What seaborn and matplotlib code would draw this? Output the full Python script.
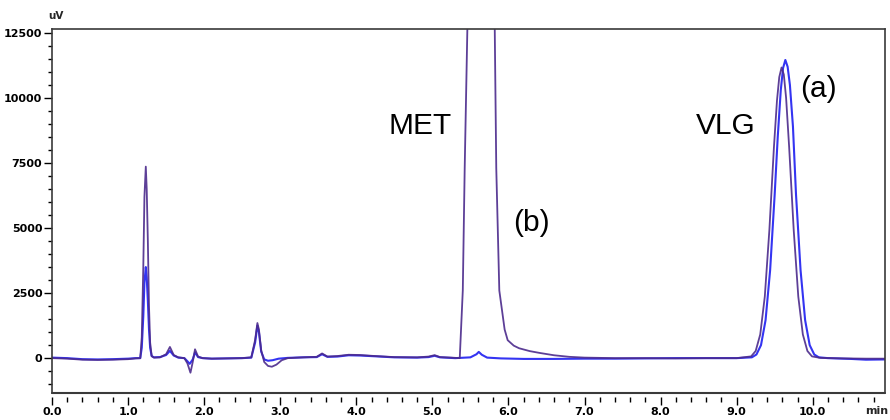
import numpy as np
import pandas as pd
import matplotlib
matplotlib.use("Agg")
import matplotlib.pyplot as plt
import matplotlib.transforms as mtransforms
from matplotlib.ticker import MultipleLocator, FixedLocator
import seaborn as sns

# ---- data (time in min, signal in uV) ----
t_a = [0.00, 0.20, 0.40, 0.60, 0.80, 1.00, 1.10, 1.16, 1.18, 1.20, 1.215, 1.233, 1.245, 1.26, 1.275,
       1.29, 1.31, 1.34, 1.42, 1.50, 1.55, 1.60, 1.66, 1.74, 1.78, 1.81, 1.85, 1.88, 1.92, 1.98,
       2.10, 2.30, 2.50, 2.62, 2.67, 2.70, 2.72, 2.75, 2.79, 2.84, 2.90, 2.98, 3.10, 3.30, 3.48,
       3.55, 3.62, 3.75, 3.90, 4.05, 4.25, 4.50, 4.80, 4.95, 5.03, 5.10, 5.30, 5.50, 5.58, 5.61,
       5.65, 5.72, 5.90, 6.20, 6.60, 7.00, 7.40, 7.80, 8.20, 8.60, 9.00, 9.20, 9.26, 9.32, 9.38,
       9.44, 9.50, 9.54, 9.58, 9.61, 9.64, 9.67, 9.70, 9.74, 9.78, 9.84, 9.90, 9.96, 10.02, 10.08,
       10.20, 10.50, 10.70, 10.95]
v_a = [20, 0, -40, -50, -40, -20, 0, 0, 400, 1600, 2900, 3500, 3100, 2200, 1100,
       400, 80, 30, 40, 120, 280, 100, 20, 0, -120, -220, -50, 220, 40, 0,
       -20, -10, 0, 20, 600, 1250, 1000, 250, -50, -100, -80, -20, 10, 30, 40,
       150, 50, 60, 110, 100, 70, 30, 20, 40, 90, 30, 0, 30, 150, 240,
       130, 20, -10, -30, -30, -20, -20, -10, 0, 0, 0, 31, 140, 500, 1460,
       3380, 6300, 8500, 10300, 11150, 11460, 11200, 10500, 8900, 6300, 3380, 1460, 500, 140, 31,
       0, -30, -60, -50]

t_b = [0.00, 0.20, 0.40, 0.60, 0.80, 1.00, 1.10, 1.16, 1.18, 1.20, 1.215, 1.233, 1.245, 1.26, 1.275,
       1.29, 1.31, 1.34, 1.42, 1.50, 1.55, 1.60, 1.66, 1.74, 1.78, 1.82, 1.85, 1.88, 1.92, 1.98,
       2.10, 2.30, 2.50, 2.62, 2.67, 2.70, 2.72, 2.75, 2.79, 2.84, 2.89, 2.95, 3.02, 3.10, 3.30,
       3.48, 3.55, 3.62, 3.75, 3.90, 4.05, 4.25, 4.50, 4.80, 4.95, 5.03, 5.10, 5.25, 5.36, 5.40,
       5.425, 5.46, 5.52, 5.60, 5.66, 5.72, 5.78, 5.82, 5.84, 5.88, 5.95, 5.99, 6.07, 6.14, 6.28,
       6.41, 6.60, 6.80, 7.00, 7.40, 7.80, 8.20, 8.60, 9.00, 9.19, 9.25, 9.31, 9.37, 9.43, 9.49,
       9.53, 9.56, 9.59, 9.62, 9.65, 9.69, 9.75, 9.81, 9.87, 9.93, 9.99, 10.10, 10.40, 10.70, 10.95]
v_b = [0, -20, -60, -70, -60, -40, -10, 0, 800, 3500, 6200, 7360, 6500, 4500, 2000,
       600, 80, 20, 30, 150, 430, 120, 30, 0, -200, -560, -150, 340, 60, 0,
       -20, -10, 0, 30, 700, 1350, 1100, 300, -150, -300, -330, -250, -80, 0, 30,
       50, 180, 60, 80, 130, 120, 80, 40, 30, 60, 115, 40, 20, 0, 2600,
       7300, 12650, 25000, 34000, 35000, 28000, 18000, 12650, 7300, 2600, 1100, 690, 480, 380, 270,
       200, 110, 50, 20, 0, 0, -10, 0, 0, 67, 275, 910, 2370, 4920, 8110,
       9900, 10800, 11170, 10900, 10000, 8110, 4920, 2370, 910, 275, 67, 10, -10, -20, -20]

x_ticks = [0, 1, 2, 3, 4, 5, 6, 7, 8, 9, 10]
x_tick_labels = ["0.0", "1.0", "2.0", "3.0", "4.0", "5.0", "6.0", "7.0", "8.0", "9.0", "10.0"]
y_ticks = [0, 2500, 5000, 7500, 10000, 12500]
y_tick_labels = ["0", "2500", "5000", "7500", "10000", "12500"]

peak_labels = ["MET", "(b)", "VLG", "(a)"]
peak_label_x = [4.84, 6.30, 8.86, 10.07]
peak_label_y = [8930, 5210, 8930, 10350]

df_a = pd.DataFrame({"time": t_a, "signal": v_a})
df_b = pd.DataFrame({"time": t_b, "signal": v_b})

sns.set_style("white")
plt.rcParams["font.family"] = ["Liberation Sans", "DejaVu Sans"]

fig = plt.figure(figsize=(8.9, 4.2), dpi=100)
ax = fig.add_axes([52 / 890, 27 / 420, (885 - 52) / 890, (392 - 28) / 420])

col_a = "#3434f2"
col_b = "#4b2a8c"
sns.lineplot(data=df_a, x="time", y="signal", ax=ax, color=col_a, lw=1.5,
             estimator=None, sort=False)
sns.lineplot(data=df_b, x="time", y="signal", ax=ax, color=col_b, lw=1.3,
             estimator=None, sort=False, alpha=0.9)

ax.set_xlim(0, 10.95)
ax.set_ylim(-1340, 12650)
ax.set_xlabel("")
ax.set_ylabel("")

frame_col = "#3a3a3a"
for s in ["left", "top", "right"]:
    ax.spines[s].set_color(frame_col)
    ax.spines[s].set_linewidth(1.2)
# bottom axis detached a few px below the frame
ax.spines["bottom"].set_position(("outward", 3))
ax.spines["bottom"].set_color("none")
ax.plot([0, 1], [0, 0], transform=ax.transAxes, color=frame_col, lw=1.5, clip_on=False)

ax.xaxis.set_major_locator(FixedLocator(x_ticks))
ax.set_xticklabels(x_tick_labels)
ax.xaxis.set_minor_locator(MultipleLocator(0.2))
ax.yaxis.set_major_locator(FixedLocator(y_ticks))
ax.set_yticklabels(y_tick_labels)
ax.yaxis.set_minor_locator(MultipleLocator(500))

ax.tick_params(axis="both", which="both", direction="out", color="black", width=1.0,
               labelsize=8, labelcolor="black", bottom=True, left=True, top=False, right=False)
ax.tick_params(axis="x", which="major", length=6, pad=1)
ax.tick_params(axis="x", which="minor", length=3.5)
ax.tick_params(axis="y", which="major", length=6, pad=1)
ax.tick_params(axis="y", which="minor", length=3)
for lab in ax.get_xticklabels() + ax.get_yticklabels():
    lab.set_family("DejaVu Sans")
    lab.set_fontweight("bold")

trans = mtransforms.blended_transform_factory(ax.transData, ax.transAxes)
ax.text(10.84, -0.036, "min", transform=trans, ha="center", va="top", fontsize=8,
        family="DejaVu Sans", fontweight="bold", clip_on=False)
ax.text(-0.005, 1.035, "uV", transform=ax.transAxes, ha="left", va="center", fontsize=7.5,
        family="DejaVu Sans", fontweight="bold", clip_on=False)

for lab, lx, ly in zip(peak_labels, peak_label_x, peak_label_y):
    ax.text(lx, ly, lab, ha="center", va="center", fontsize=21.5, color="black")

fig.savefig("out.png", dpi=100)
